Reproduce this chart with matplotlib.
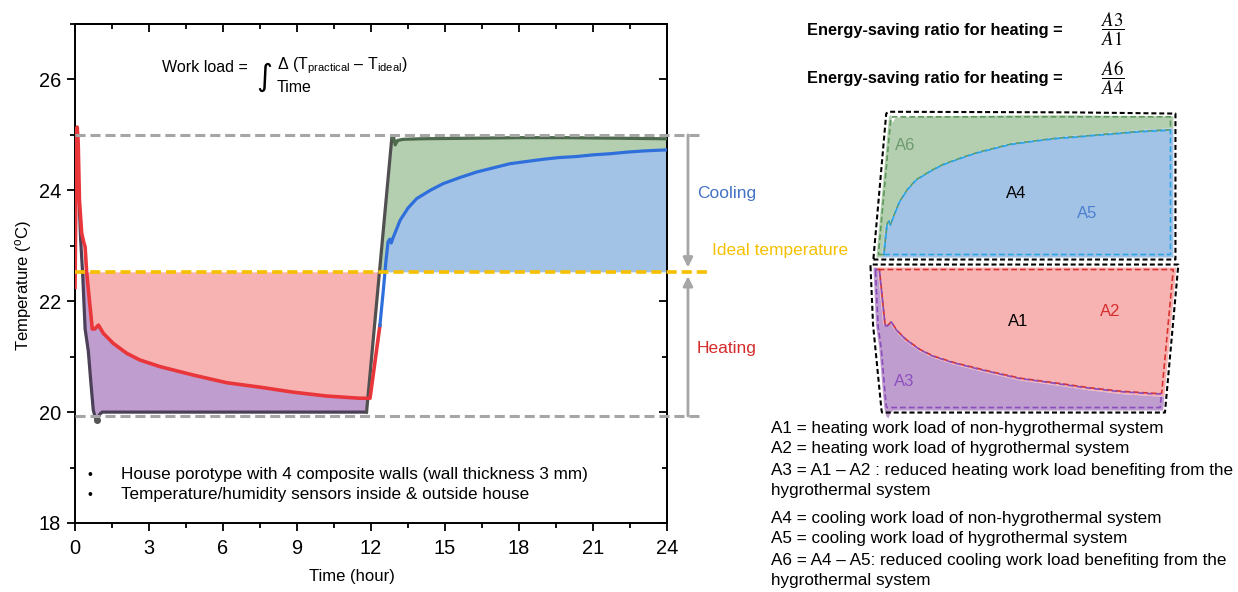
import numpy as np
import matplotlib
matplotlib.use("Agg")
import matplotlib.pyplot as plt
from matplotlib.ticker import MultipleLocator

plt.rcParams['font.family'] = ['Liberation Sans', 'DejaVu Sans']
plt.rcParams['mathtext.fontset'] = 'custom'
plt.rcParams['mathtext.rm'] = 'Liberation Sans'
plt.rcParams['mathtext.it'] = 'Liberation Sans:italic'
plt.rcParams['mathtext.bf'] = 'Liberation Sans:bold'

# ---- data -------------------------------------------------------------
# indoor temperature of the house without the hygrothermal walls
hours_ref = [0.00, 0.08, 0.15, 0.23, 0.31, 0.41, 0.54, 0.64, 0.74, 0.82, 0.90,
             1.00, 1.10, 3.0, 6.0, 9.0, 11.82, 12.84, 12.92, 12.98, 13.08, 13.3,
             14.0, 16.0, 18.0, 20.0, 22.0, 24.0]
temp_ref = [25.05, 24.95, 24.00, 23.10, 22.50, 21.50, 21.10, 20.55, 20.04, 19.90, 19.86,
            19.96, 20.00, 20.0, 20.0, 20.0, 20.00, 24.93, 24.96, 24.82, 24.90, 24.92,
            24.93, 24.94, 24.95, 24.95, 24.94, 24.93]

# indoor temperature of the house with the hygrothermal walls
hours_hyg = [0.00, 0.03, 0.06, 0.09, 0.13, 0.18, 0.27, 0.36, 0.41, 0.47, 0.61, 0.70,
             0.80, 0.95, 1.15, 1.55, 2.10, 2.63, 3.45, 4.78, 6.15, 7.50, 8.84, 10.2,
             11.55, 11.96, 12.36, 12.50, 12.60, 12.69, 12.76, 12.82, 12.90, 13.18,
             13.50, 13.85, 14.40, 14.92, 15.60, 16.28, 17.00, 17.63, 18.30, 18.98,
             19.60, 20.33, 21.00, 21.69, 22.40, 23.03, 23.50, 24.00]
temp_hyg = [22.25, 23.60, 25.05, 25.14, 24.85, 23.82, 23.23, 23.05, 22.98, 22.53, 21.90, 21.50,
            21.50, 21.57, 21.42, 21.24, 21.06, 20.94, 20.82, 20.67, 20.53, 20.45, 20.36, 20.29,
            20.25, 20.25, 21.56, 22.20, 22.70, 23.07, 23.12, 23.05, 23.15, 23.46,
            23.68, 23.85, 24.00, 24.12, 24.23, 24.33, 24.41, 24.48, 24.52, 24.56,
            24.59, 24.61, 24.64, 24.66, 24.69, 24.71, 24.72, 24.73]

T_IDEAL = 22.53          # ideal indoor temperature
T_HIGH = 25.0            # upper set level
T_LOW = 19.93            # lower set level
SWITCH_HOUR = 12.36      # heating -> cooling hand-over of the hygrothermal trace

x_ticks = [0, 3, 6, 9, 12, 15, 18, 21, 24]
y_ticks = [18, 20, 22, 24, 26]

notes = ["House porotype with 4 composite walls (wall thickness 3 mm)",
         "Temperature/humidity sensors inside & outside house"]
definitions_heat = ["A1 = heating work load of non-hygrothermal system",
                    "A2 = heating work load of hygrothermal system",
                    "A3 = A1 \u2013 A2 : reduced heating work load benefiting from the",
                    "hygrothermal system"]
definitions_cool = ["A4 = cooling work load of non-hygrothermal system",
                    "A5 = cooling work load of hygrothermal system",
                    "A6 = A4 \u2013 A5: reduced cooling work load benefiting from the",
                    "hygrothermal system"]

# ---- colours ----------------------------------------------------------
C_PINK = '#f7b3b2'
C_PURPLE = '#bf9dcf'
C_GREEN = '#b4cfb0'
C_BLUE = '#a3c3e6'
C_RED = '#e8363b'
C_BLUELINE = '#2f6fdc'
C_GRAY = '#a6a6a6'
C_YELLOW = '#f6c000'

W, H = 1238, 592
fig = plt.figure(figsize=(W / 100, H / 100), dpi=100)


def box(x0, y0, x1, y1):
    return [x0 / W, 1 - y1 / H, (x1 - x0) / W, (y1 - y0) / H]


def fx(x):
    return x / W


def fy(y):
    return 1 - y / H


hr = np.asarray(hours_ref)
tr = np.asarray(temp_ref)
hh = np.asarray(hours_hyg)
th = np.asarray(temp_hyg)

grid = np.linspace(0, 24, 4801)
nh = np.interp(grid, hr, tr)
hy = np.interp(grid, hh, th)
heat = grid < 13.0
cool = grid > 1.5

pink_low = np.minimum(np.maximum(nh, hy), T_IDEAL)
purple_top = np.minimum(hy, T_IDEAL)
green_low = np.maximum(hy, T_IDEAL)
blue_top = np.minimum(hy, nh)

m_a1 = heat & (nh < T_IDEAL)
m_a3 = m_a1 & (hy > nh)
m_a4 = cool & (nh > T_IDEAL)
m_a6 = m_a4 & (nh > hy)
m_a5 = cool & (hy > T_IDEAL)


def draw_heating(a):
    a.fill_between(grid, pink_low, T_IDEAL, where=m_a1, color=C_PINK, lw=0, zorder=1)
    a.fill_between(grid, nh, purple_top, where=m_a3, color=C_PURPLE, lw=0,
                   interpolate=True, zorder=1)


def draw_cooling(a):
    a.fill_between(grid, green_low, nh, where=m_a6, color=C_GREEN, lw=0,
                   interpolate=True, zorder=1)
    a.fill_between(grid, T_IDEAL, blue_top, where=m_a5, color=C_BLUE, lw=0,
                   interpolate=True, zorder=1)


# ---- main panel -------------------------------------------------------
ax = fig.add_axes(box(75, 24, 667, 523))
ax.set_xlim(0, 24)
ax.set_ylim(18, 27)
draw_heating(ax)
draw_cooling(ax)

# reference house trace, split by phase
heat_part = hr <= 11.82
cool_part = hr >= 12.84
rise_part = (hr >= 11.82) & (hr <= 12.84)
ax.plot(hr[heat_part], tr[heat_part], color='#4b4057', lw=2.3, zorder=3,
        solid_capstyle='round')
ax.plot(hr[rise_part], tr[rise_part], color='#505050', lw=2.3, zorder=3)
ax.plot(hr[cool_part], tr[cool_part], color='#4d6a4d', lw=2.3, zorder=3,
        solid_capstyle='round')
imin = int(np.argmin(tr))
ax.plot(hr[imin], tr[imin], 'o', color='#555555', ms=4, zorder=3)

# hygrothermal house trace
red_part = hh <= SWITCH_HOUR
blue_part = hh >= SWITCH_HOUR
ax.plot(hh[red_part], th[red_part], color=C_RED, lw=2.6, zorder=4)
ax.plot(hh[blue_part], th[blue_part], color=C_BLUELINE, lw=2.3, zorder=4)

# set levels and ideal temperature
for lvl in (T_HIGH, T_LOW):
    ax.plot([0, 25.46], [lvl, lvl], color=C_GRAY, lw=2.2,
            ls=(0, (3.3, 1.6)), clip_on=False, zorder=5)
ax.plot([0, 25.75], [T_IDEAL, T_IDEAL], color=C_YELLOW, lw=2.6,
        ls=(0, (2.8, 1.4)), clip_on=False, zorder=6)

arrow = dict(arrowstyle='-|>', color=C_GRAY, lw=2, mutation_scale=14,
             shrinkA=0, shrinkB=0)
ax.annotate('', xy=(24.85, T_IDEAL + 0.08), xytext=(24.85, T_HIGH),
            arrowprops=arrow, annotation_clip=False)
ax.annotate('', xy=(24.85, T_IDEAL - 0.08), xytext=(24.85, T_LOW),
            arrowprops=arrow, annotation_clip=False)

ax.text(25.22, 23.95, 'Cooling', color='#4472c4', fontsize=12.5,
        va='center', ha='left', clip_on=False)
ax.text(25.22, 21.14, 'Heating', color='#d42b2b', fontsize=12.5,
        va='center', ha='left', clip_on=False)
ax.text(25.82, 22.92, 'Ideal temperature', color=C_YELLOW, fontsize=12.5,
        va='center', ha='left', clip_on=False)

# axes cosmetics
ax.set_xticks(x_ticks)
ax.set_yticks(y_ticks)
ax.xaxis.set_minor_locator(MultipleLocator(1.5))
ax.yaxis.set_minor_locator(MultipleLocator(1))
ax.tick_params(which='both', direction='out', width=1.3, labelsize=14.4)
ax.tick_params(which='major', length=6)
ax.tick_params(which='minor', length=3.5)
ax.tick_params(axis='x', pad=5.5)
ax.tick_params(axis='y', pad=4)
for sp in ax.spines.values():
    sp.set_linewidth(1.4)

top = ax.secondary_xaxis('top')
top.set_xticks(x_ticks)
top.xaxis.set_minor_locator(MultipleLocator(1.5))
top.tick_params(which='both', direction='in', width=1.3, labeltop=False)
top.tick_params(which='major', length=6)
top.tick_params(which='minor', length=3.5)
top.spines['top'].set_linewidth(1.4)
right = ax.secondary_yaxis('right')
right.set_yticks(y_ticks)
right.yaxis.set_minor_locator(MultipleLocator(1))
right.tick_params(which='both', direction='in', width=1.3, labelright=False)
right.tick_params(which='major', length=6)
right.tick_params(which='minor', length=3.5)
right.spines['right'].set_linewidth(1.4)

ax.set_xlabel('Time (hour)', fontsize=12, va='center')
ax.xaxis.set_label_coords((352 - 75) / 592, (523 - 576) / 499)
ax.set_ylabel('Temperature ($^{\\mathrm{o}}$C)', fontsize=12, va='center')
ax.yaxis.set_label_coords((23 - 75) / 592, (523 - 286) / 499)

# work-load formula
fig.text(fx(162), fy(67), 'Work load =', fontsize=11.5, va='center', ha='left')
fig.text(fx(264), fy(77), '\u222b', fontsize=22, va='center', ha='center',
         family=['DejaVu Sans'])
fig.text(fx(277), fy(66), '\u0394 (T$_{\\mathrm{practical}}$ \u2013 T$_{\\mathrm{ideal}}$)',
         fontsize=11.5, va='center', ha='left')
fig.text(fx(277), fy(88), 'Time', fontsize=11.5, va='center', ha='left')

# notes inside the plot
for i, note in enumerate(notes):
    y = 475 + 20 * i
    fig.text(fx(90), fy(y), '\u2022', fontsize=10, va='center', ha='center')
    fig.text(fx(121), fy(y), note, fontsize=12.3, va='center', ha='left')


# ---- right-hand schematic --------------------------------------------
def convex_hull(pts):
    pts = np.unique(pts, axis=0)
    pts = pts[np.lexsort((pts[:, 1], pts[:, 0]))]

    def cross(o, a, b):
        return (a[0] - o[0]) * (b[1] - o[1]) - (a[1] - o[1]) * (b[0] - o[0])

    lower, upper = [], []
    for p in pts:
        while len(lower) >= 2 and cross(lower[-2], lower[-1], p) <= 0:
            lower.pop()
        lower.append(p)
    for p in pts[::-1]:
        while len(upper) >= 2 and cross(upper[-2], upper[-1], p) <= 0:
            upper.pop()
        upper.append(p)
    return np.array(lower[:-1] + upper[:-1])


def outline(a, xs, ys, color, lw, grow, dash, hull=False):
    pts = a.transData.transform(np.column_stack([xs, ys]))
    if hull:
        pts = convex_hull(pts)
    lo, hi = pts.min(0), pts.max(0)
    c = (lo + hi) / 2
    half = (hi - lo) / 2
    pts = c + (pts - c) * (half + grow) / half
    pts = np.vstack([pts, pts[:1]])
    d = a.transData.inverted().transform(pts)
    a.plot(d[:, 0], d[:, 1], color=color, lw=lw, ls=(0, dash), zorder=3,
           clip_on=False)


def region(mask, lower, upper):
    lo = np.broadcast_to(lower, grid.shape)[mask]
    up = np.broadcast_to(upper, grid.shape)[mask]
    xs = np.concatenate([grid[mask], grid[mask][::-1]])
    ys = np.concatenate([lo, up[::-1]])
    return xs, ys


# smoothed edges of the two blocks for the dashed outlines
nh_env = np.where(m_a4, np.maximum.accumulate(np.where(m_a4, nh, -np.inf)), nh)
nh_floor = np.maximum(nh, np.median(nh[m_a1]))

ax_c = fig.add_axes(box(867.1, 103.1, 1180.6, 267.6))
ax_c.set_xlim(12.0, 24.3)
ax_c.set_ylim(22.35, 25.15)
ax_c.axis('off')
draw_cooling(ax_c)

ax_h = fig.add_axes(box(865.2, 254.6, 1182.3, 427.0))
ax_h.set_xlim(0, 12.6)
ax_h.set_ylim(19.7, 22.75)
ax_h.axis('off')
draw_heating(ax_h)

fig.canvas.draw()
outline(ax_c, *region(m_a4, T_IDEAL, nh), 'black', 1.5, 2.5, (2.4, 1.4), hull=True)
outline(ax_c, *region(m_a6, green_low, nh_env), '#5e9a5e', 1.2, -2.5, (3.5, 1.8))
outline(ax_c, *region(m_a5, T_IDEAL, blue_top), '#2aa6e6', 1.2, -2.5, (3.5, 1.8))
outline(ax_h, *region(m_a1, nh_floor, T_IDEAL), 'black', 1.5, 2.5, (2.4, 1.4), hull=True)
outline(ax_h, *region(m_a1, pink_low, T_IDEAL), '#d8322e', 1.2, -2.5, (3.5, 1.8))
outline(ax_h, *region(m_a3, nh_floor, purple_top), '#8a4dbb', 1.2, -2.5, (3.5, 1.8))

fig.text(fx(905), fy(146), 'A6', color='#6e9a6e', fontsize=12, ha='center', va='center')
fig.text(fx(1016), fy(193), 'A4', color='black', fontsize=12, ha='center', va='center')
fig.text(fx(1087), fy(214), 'A5', color='#4d7fd0', fontsize=12, ha='center', va='center')
fig.text(fx(1018), fy(321), 'A1', color='black', fontsize=12, ha='center', va='center')
fig.text(fx(1110), fy(311), 'A2', color='#d62d2d', fontsize=12, ha='center', va='center')
fig.text(fx(904), fy(382), 'A3', color='#8e4fc0', fontsize=12, ha='center', va='center')

# energy-saving ratios
fig.text(fx(807), fy(30), 'Energy-saving ratio for heating =', fontsize=11.8,
         weight='bold', va='center', ha='left')
fig.text(fx(1113), fy(29), r'$\dfrac{A3}{A1}$', fontsize=13.5, va='center',
         ha='center', math_fontfamily='stix')
fig.text(fx(807), fy(79), 'Energy-saving ratio for heating =', fontsize=11.8,
         weight='bold', va='center', ha='left')
fig.text(fx(1113), fy(78), r'$\dfrac{A6}{A4}$', fontsize=13.5, va='center',
         ha='center', math_fontfamily='stix')

# definitions
for line, y in zip(definitions_heat, [428, 449, 470, 491]):
    fig.text(fx(771), fy(y), line, fontsize=12.3, va='center', ha='left')
for line, y in zip(definitions_cool, [518, 539, 560, 581]):
    fig.text(fx(771), fy(y), line, fontsize=12.3, va='center', ha='left')

fig.savefig('out.png', dpi=100)
